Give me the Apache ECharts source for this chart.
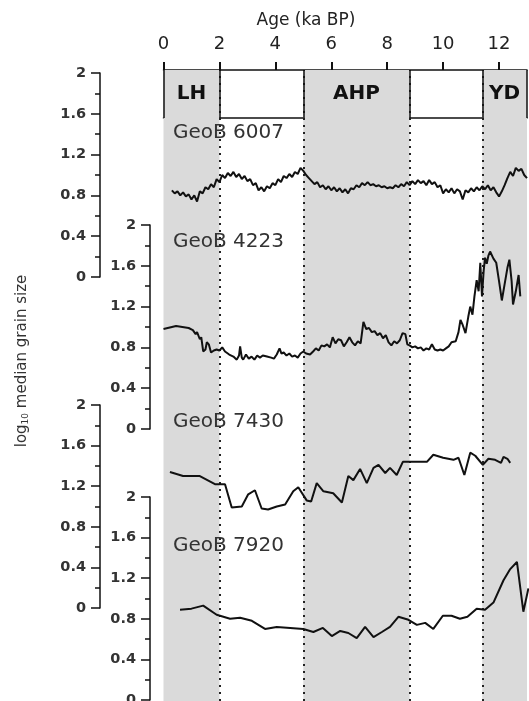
<!DOCTYPE html>
<html><head><meta charset="utf-8">
<script src="https://cdn.jsdelivr.net/npm/echarts@6/dist/echarts.min.js"></script>
<style>html,body{margin:0;padding:0;background:#fff}#c{width:529px;height:701px}</style>
</head><body><div id="c"></div>
<script>
// ---------- data ----------
const ageTicks = [0, 2, 4, 6, 8, 10, 12];
const yTickLabels = [0, 0.4, 0.8, 1.2, 1.6, 2];
const periodNames = ['LH', 'AHP', 'YD'];
const periodStart = [0, 5, 11.4];
const periodEnd = [2, 8.8, 13];
const boundaries = [2, 5, 8.8, 11.4];
const coreNames = ['GeoB 6007', 'GeoB 4223', 'GeoB 7430', 'GeoB 7920'];

const age6007 = [0.3,0.4,0.5,0.6,0.7,0.8,0.9,1.0,1.1,1.2,1.3,1.4,1.5,1.6,1.7,1.8,1.9,2.0,2.1,2.2,2.3,2.4,2.5,2.6,2.7,2.8,2.9,3.0,3.1,3.2,3.3,3.4,3.5,3.6,3.7,3.8,3.9,4.0,4.1,4.2,4.3,4.4,4.5,4.6,4.7,4.8,4.9,5.0,5.1,5.2,5.3,5.4,5.5,5.6,5.7,5.8,5.9,6.0,6.1,6.2,6.3,6.4,6.5,6.6,6.7,6.8,6.9,7.0,7.1,7.2,7.3,7.4,7.5,7.6,7.7,7.8,7.9,8.0,8.1,8.2,8.3,8.4,8.5,8.6,8.7,8.8,8.9,9.0,9.1,9.2,9.3,9.4,9.5,9.6,9.7,9.8,9.9,10.0,10.1,10.2,10.3,10.4,10.5,10.6,10.7,10.8,10.9,11.0,11.1,11.2,11.3,11.4,11.5,11.6,11.7,11.8,11.9,12.0,12.1,12.2,12.3,12.4,12.5,12.6,12.7,12.8,12.9,13.0];
const val6007 = [0.85,0.82,0.84,0.80,0.83,0.79,0.81,0.76,0.80,0.74,0.84,0.82,0.88,0.86,0.91,0.88,0.96,0.93,1.00,0.97,1.02,0.99,1.03,0.98,1.01,0.96,0.99,0.94,0.96,0.90,0.92,0.85,0.88,0.84,0.89,0.87,0.92,0.90,0.96,0.93,0.99,0.97,1.01,0.98,1.03,1.01,1.07,1.04,1.00,0.97,0.94,0.91,0.93,0.88,0.90,0.86,0.89,0.85,0.88,0.84,0.87,0.83,0.86,0.82,0.87,0.86,0.90,0.88,0.92,0.90,0.93,0.90,0.91,0.89,0.90,0.88,0.89,0.87,0.88,0.87,0.90,0.88,0.91,0.89,0.93,0.90,0.94,0.91,0.95,0.92,0.94,0.90,0.95,0.91,0.93,0.88,0.90,0.82,0.86,0.83,0.87,0.82,0.86,0.84,0.76,0.85,0.83,0.87,0.84,0.88,0.85,0.89,0.86,0.90,0.85,0.88,0.83,0.79,0.84,0.90,0.97,1.03,0.99,1.07,1.04,1.06,1.00,0.97];

const age4223 = [0.0,0.45,0.9,1.05,1.15,1.2,1.3,1.35,1.42,1.5,1.55,1.62,1.7,1.8,1.9,2.0,2.1,2.2,2.35,2.5,2.62,2.7,2.74,2.8,2.85,2.95,3.05,3.15,3.25,3.35,3.45,3.55,3.7,3.85,3.95,4.05,4.15,4.22,4.3,4.4,4.5,4.6,4.7,4.8,4.9,5.0,5.1,5.24,5.35,5.45,5.55,5.65,5.75,5.85,5.95,6.05,6.15,6.25,6.35,6.45,6.55,6.65,6.75,6.85,6.95,7.05,7.15,7.25,7.35,7.45,7.55,7.65,7.75,7.85,7.95,8.05,8.15,8.25,8.35,8.45,8.55,8.65,8.72,8.8,8.9,9.0,9.1,9.2,9.3,9.4,9.5,9.6,9.7,9.8,9.9,10.0,10.1,10.2,10.3,10.45,10.55,10.62,10.7,10.8,10.9,10.97,11.05,11.12,11.2,11.27,11.33,11.39,11.45,11.5,11.56,11.62,11.68,11.8,11.9,12.0,12.1,12.2,12.3,12.37,12.45,12.5,12.6,12.7,12.76];
const val4223 = [0.98,1.01,0.99,0.97,0.93,0.95,0.88,0.90,0.76,0.78,0.85,0.83,0.75,0.77,0.78,0.77,0.80,0.76,0.73,0.71,0.68,0.72,0.81,0.70,0.68,0.73,0.69,0.71,0.68,0.72,0.70,0.72,0.71,0.70,0.69,0.73,0.79,0.74,0.75,0.72,0.74,0.71,0.72,0.70,0.74,0.76,0.74,0.73,0.76,0.79,0.77,0.82,0.81,0.83,0.80,0.90,0.84,0.88,0.87,0.81,0.85,0.90,0.85,0.82,0.86,0.84,1.05,0.98,0.99,0.95,0.96,0.92,0.94,0.89,0.92,0.85,0.82,0.86,0.84,0.87,0.94,0.93,0.83,0.82,0.80,0.81,0.79,0.80,0.77,0.79,0.78,0.83,0.78,0.77,0.78,0.77,0.79,0.81,0.85,0.86,0.95,1.07,1.02,0.94,1.10,1.20,1.12,1.30,1.46,1.35,1.63,1.30,1.55,1.68,1.62,1.70,1.74,1.67,1.63,1.45,1.26,1.42,1.58,1.66,1.45,1.22,1.35,1.51,1.30];

const age7430 = [0.23,0.7,1.3,1.84,2.2,2.44,2.8,3.03,3.27,3.51,3.74,4.05,4.35,4.64,4.82,5.12,5.28,5.48,5.72,6.07,6.38,6.61,6.79,7.03,7.27,7.51,7.69,7.93,8.1,8.34,8.56,9.42,9.65,10.0,10.37,10.55,10.76,10.97,11.15,11.42,11.62,11.86,12.07,12.16,12.3,12.4];
const val7430 = [1.34,1.30,1.30,1.22,1.22,0.99,1.00,1.12,1.16,0.98,0.97,1.00,1.02,1.15,1.19,1.06,1.05,1.23,1.15,1.13,1.04,1.30,1.26,1.37,1.23,1.38,1.41,1.33,1.38,1.31,1.44,1.44,1.51,1.48,1.46,1.48,1.31,1.53,1.50,1.41,1.47,1.46,1.43,1.49,1.47,1.43];

const age7920 = [0.59,1.0,1.42,1.9,2.38,2.74,3.16,3.63,4.05,4.53,5.0,5.36,5.7,6.02,6.32,6.61,6.91,7.21,7.51,7.81,8.1,8.4,8.76,9.06,9.36,9.65,9.99,10.3,10.6,10.87,11.2,11.5,11.8,12.16,12.4,12.64,12.87,13.05];
const val7920 = [0.89,0.90,0.93,0.84,0.80,0.81,0.78,0.70,0.72,0.71,0.70,0.67,0.71,0.63,0.68,0.66,0.61,0.72,0.62,0.67,0.72,0.82,0.79,0.74,0.76,0.70,0.83,0.83,0.80,0.82,0.90,0.89,0.96,1.18,1.29,1.36,0.87,1.10];

const coreAges = [age6007, age4223, age7430, age7920];
const coreVals = [val6007, val4223, val7430, val7920];

// ---------- layout ----------
const FONT = 'DejaVu Sans';
const L = 163.5, W = 363.5;
const XMAX = 13;
const coreTop = [73, 225, 405, 497];
const coreH = [204, 204, 203, 203];
const axisOffset = [63.5, 13.5, 63.5, 13.5];
const labelY = [133, 242, 422, 546];

const grids = [
  {left: L, width: W, top: 70, bottom: 0, outerBoundsMode: 'none'},          // 0 background bands
  {left: L, width: W, top: 70, height: 48, outerBoundsMode: 'none'}          // 1 header box
];
const xAxes = [
  {gridIndex: 0, type: 'value', min: 0, max: XMAX, show: false},
  {gridIndex: 1, type: 'value', min: 0, max: XMAX, position: 'top',
    axisLine: {show: true, onZero: false, lineStyle: {color: '#111', width: 1.5}},
    axisTick: {show: true, length: 8, inside: false, lineStyle: {color: '#111', width: 2}, customValues: ageTicks},
    axisLabel: {show: true, margin: 17, fontFamily: FONT, fontSize: 18, color: '#222', customValues: ageTicks},
    splitLine: {show: false}},
  {gridIndex: 1, type: 'value', min: 0, max: XMAX, position: 'bottom',
    axisLine: {show: true, onZero: false, lineStyle: {color: '#111', width: 1.5}},
    axisTick: {show: false}, axisLabel: {show: false}, splitLine: {show: false}}
];
const yAxes = [
  {gridIndex: 0, type: 'value', min: 0, max: 1, show: false},
  {gridIndex: 1, type: 'value', min: 0, max: 1, show: false}
];
const series = [
  {type: 'line', xAxisIndex: 0, yAxisIndex: 0, data: [], z: 1, silent: true,
    markArea: {silent: true, itemStyle: {color: '#dadada'},
      data: periodStart.map((s, i) => [{xAxis: s}, {xAxis: periodEnd[i]}])},
    markLine: {silent: true, symbol: 'none', label: {show: false},
      lineStyle: {color: '#222', type: [2, 5], width: 2},
      data: boundaries.map(b => ({xAxis: b}))}},
  {type: 'line', xAxisIndex: 1, yAxisIndex: 1, data: [], z: 6, silent: true,
    markArea: {silent: true, itemStyle: {color: 'rgba(0,0,0,0)'},
      label: {show: true, position: 'inside', fontFamily: FONT, fontWeight: 'bold', fontSize: 20, color: '#111'},
      data: periodStart.map((s, i) => [{xAxis: s, name: periodNames[i]}, {xAxis: periodEnd[i]}])},
    markLine: {silent: true, symbol: 'none', label: {show: false},
      lineStyle: {color: '#111', type: 'solid', width: 1.5},
      data: [0].concat(boundaries).concat([XMAX]).map(b => ({xAxis: b}))}}
];

for (let i = 0; i < 4; i++) {
  grids.push({left: L, width: W, top: coreTop[i], height: coreH[i], outerBoundsMode: 'none'});
  const gi = grids.length - 1;
  xAxes.push({gridIndex: gi, type: 'value', min: 0, max: XMAX, show: false});
  yAxes.push({gridIndex: gi, type: 'value', min: 0, max: 2, interval: 0.4, position: 'left', offset: axisOffset[i],
    axisLine: {show: true, onZero: false, lineStyle: {color: '#111', width: 1.5}},
    axisTick: {show: true, length: 9, lineStyle: {color: '#111', width: 1.5}},
    minorTick: {show: true, splitNumber: 2, length: 5, lineStyle: {color: '#111', width: 1.5}},
    axisLabel: {margin: 14, fontFamily: FONT, fontWeight: 'bold', fontSize: 14.5, color: '#333'},
    splitLine: {show: false}, minorSplitLine: {show: false}});
  series.push({type: 'line', name: coreNames[i], xAxisIndex: xAxes.length - 1, yAxisIndex: yAxes.length - 1,
    data: coreAges[i].map((a, k) => [a, coreVals[i][k]]),
    showSymbol: false, symbol: 'none', z: 5, clip: true,
    lineStyle: {color: '#111', width: 2}});
}

const graphic = coreNames.map((n, i) => ({
  type: 'text', x: 173, y: labelY[i], z: 10,
  style: {text: n, font: '20px "DejaVu Sans"', fill: '#333', verticalAlign: 'middle'}
}));
graphic.push({type: 'text', x: 306, y: 21, z: 10,
  style: {text: 'Age (ka BP)', font: '17px "DejaVu Sans"', fill: '#222', align: 'center', verticalAlign: 'middle'}});
graphic.push({type: 'text', x: 22, y: 361, rotation: Math.PI / 2, z: 10,
  style: {text: '{a|log}{b|10}{a| median grain size}', align: 'center', verticalAlign: 'middle',
    rich: {a: {fontFamily: FONT, fontSize: 15, fill: '#333', color: '#333'},
           b: {fontFamily: FONT, fontSize: 9, fill: '#333', color: '#333', padding: [8, 0, 0, 0]}}}});

const chart = echarts.init(document.getElementById('c'), null, {renderer: 'canvas'});
chart.setOption({
  animation: false,
  backgroundColor: '#fff',
  grid: grids, xAxis: xAxes, yAxis: yAxes, series: series, graphic: graphic
});
</script></body></html>
